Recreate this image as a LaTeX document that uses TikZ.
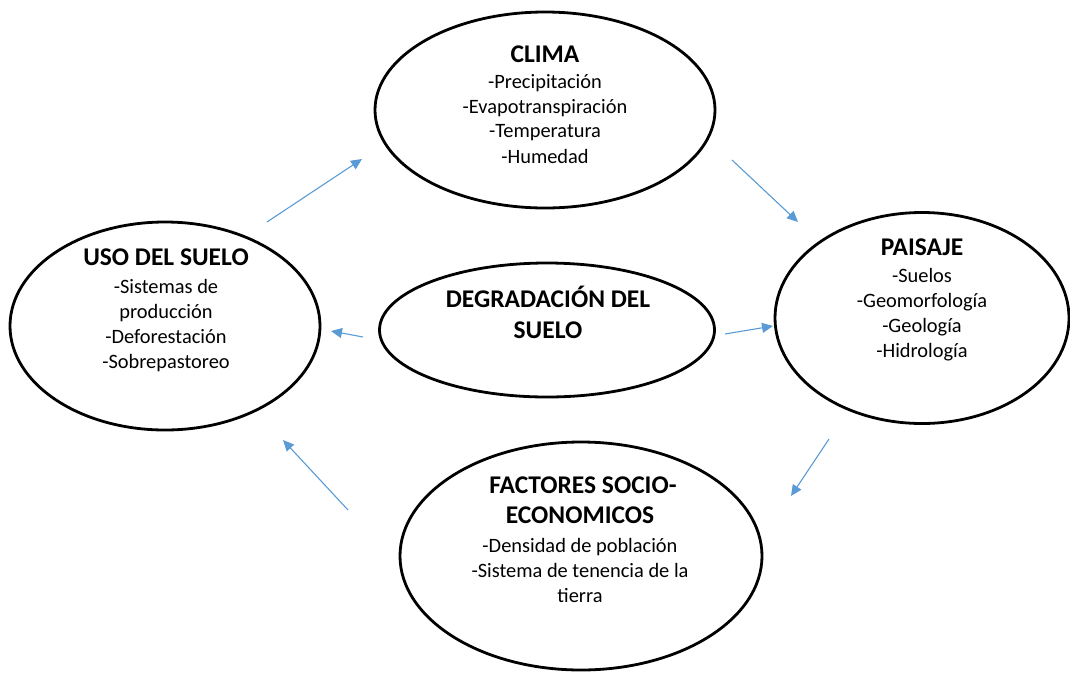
\documentclass[tikz,border=0pt]{standalone}
\usepackage{fontspec}
\setmainfont{Carlito}
\usetikzlibrary{shapes.geometric,arrows.meta}
\definecolor{arrowblue}{RGB}{91,155,213}
\tikzset{
  bubble/.style={draw=black, line width=2.8pt, ellipse, inner sep=0pt, fill=white},
  title/.style={anchor=base, inner sep=0pt, font=\fontsize{25.5}{30}\selectfont\bfseries},
  item/.style={anchor=base, inner sep=0pt, font=\fontsize{20.4}{24}\selectfont},
  flow/.style={draw=arrowblue, line width=1.1pt, -{Triangle[length=11pt,width=10pt]}}
}
\begin{document}
\begin{tikzpicture}[x=1pt,y=-1pt]
\useasboundingbox (0,0) rectangle (1070,673);
% ellipses
\node[bubble, minimum width=340pt, minimum height=196pt] (clima) at (545,110) {};
\node[bubble, minimum width=310pt, minimum height=208pt] (uso) at (165,326) {};
\node[bubble, minimum width=335pt, minimum height=134pt] (degr) at (547,330) {};
\node[bubble, minimum width=294pt, minimum height=211pt] (paisaje) at (922,318) {};
\node[bubble, minimum width=362pt, minimum height=228pt] (fact) at (581,556) {};
% CLIMA
\node[title] (climaT) at (545,62) {CLIMA};
\node[item] (clima1) at (545,88) {-Precipitación};
\node[item] (clima2) at (545,113) {-Evapotranspiración};
\node[item] (clima3) at (545,137) {-Temperatura};
\node[item] (clima4) at (545,163) {-Humedad};
% USO
\node[title] (usoT) at (166,265) {USO DEL SUELO};
\node[item] (uso1) at (166,293) {-Sistemas de};
\node[item] (uso2) at (166,318) {producción};
\node[item] (uso3) at (166,343) {-Deforestación};
\node[item] (uso4) at (166,368) {-Sobrepastoreo};
% DEGRADACION
\node[title] (degrT1) at (548,307) {DEGRADACIÓN DEL};
\node[title] (degrT2) at (548,338) {SUELO};
% PAISAJE
\node[title] (paisT) at (922,255) {PAISAJE};
\node[item] (pais1) at (922,282) {-Suelos};
\node[item] (pais2) at (922,307) {-Geomorfología};
\node[item] (pais3) at (922,332) {-Geología};
\node[item] (pais4) at (922,357) {-Hidrología};
% FACTORES
\node[title] (factT1) at (583,493) {FACTORES SOCIO-};
\node[title] (factT2) at (580,523) {ECONOMICOS};
\node[item] (fact1) at (580,552) {-Densidad de población};
\node[item] (fact2) at (580,577) {-Sistema de tenencia de la};
\node[item] (fact3) at (580,602) {tierra};
% arrow end points
\coordinate (a1s) at (267,222);
\coordinate (a1e) at (362,159);
\coordinate (a2s) at (732,160);
\coordinate (a2e) at (798,222);
\coordinate (a3s) at (363,337);
\coordinate (a3e) at (331,331);
\coordinate (a4s) at (725,334);
\coordinate (a4e) at (773,326);
\coordinate (a5s) at (829,439);
\coordinate (a5e) at (791,496);
\coordinate (a6s) at (348,510);
\coordinate (a6e) at (283,440);
\draw[flow] (a1s) -- (a1e);
\draw[flow] (a2s) -- (a2e);
\draw[flow] (a3s) -- (a3e);
\draw[flow] (a4s) -- (a4e);
\draw[flow] (a5s) -- (a5e);
\draw[flow] (a6s) -- (a6e);
\end{tikzpicture}
\end{document}
